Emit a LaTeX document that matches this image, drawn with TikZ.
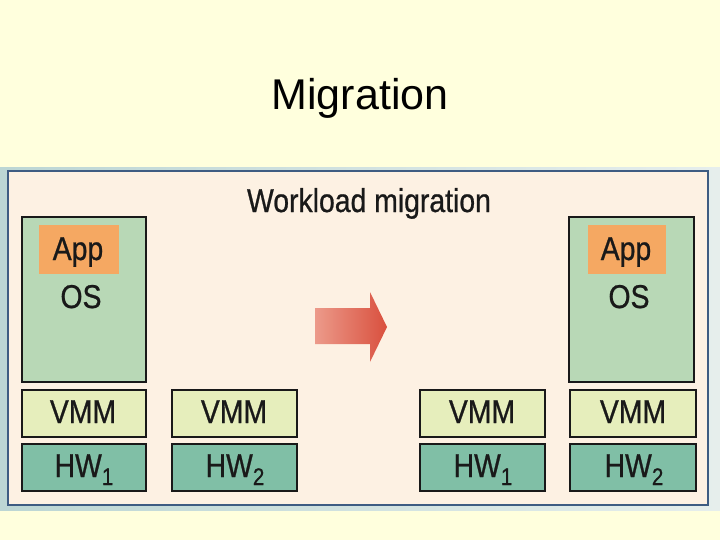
\documentclass[tikz,border=0pt]{standalone}
\usepackage{fontspec}
\setmainfont{Liberation Sans}
\newfontfamily\medfont[FakeBold=0.8]{Liberation Sans}
\usetikzlibrary{positioning}
\definecolor{bgyellow}{HTML}{FFFFDD}
\definecolor{bandL}{HTML}{BCD6D4}
\definecolor{bandR}{HTML}{E6EEEC}
\definecolor{framecol}{HTML}{3E5C82}
\definecolor{cream}{HTML}{FDF1E3}
\definecolor{osgreen}{HTML}{B8D8B6}
\definecolor{apporange}{HTML}{F5A862}
\definecolor{vmmcol}{HTML}{E6EEBC}
\definecolor{hwcol}{HTML}{80BFA6}
\definecolor{arrowL}{HTML}{EC9A8A}
\definecolor{arrowR}{HTML}{D9503E}
\newcommand{\hwsub}[1]{HW\raisebox{-8pt}{\fontsize{24}{24}\selectfont #1}}
\tikzset{
  box/.style={draw=black!90, line width=2pt, inner sep=0pt, anchor=north west},
  lbl/.style={inner sep=0pt, anchor=base, font=\medfont\fontsize{33}{36}\selectfont, xscale=0.86, text=black!90},
}
\begin{document}
\begin{tikzpicture}[x=1pt,y=-1pt]
\useasboundingbox (0,0) rectangle (720,540);
\fill[bgyellow] (0,0) rectangle (720,540);
\node[font=\fontsize{43}{46}\selectfont, anchor=base, inner sep=0pt] (title) at (360,110) {Migration};
% band
\shade[left color=bandL, right color=bandR] (0,168) rectangle (720,510);
\draw[framecol, line width=2pt, fill=cream] (7.5,171.5) rectangle (707.5,505) ;
\node[lbl] (wl) at (369,212) {Workload migration};
% left stack
\node[box, fill=osgreen, minimum width=124pt, minimum height=165pt] (os1) at (21,216) {};
\node[box, draw=none, fill=apporange, minimum width=80pt, minimum height=49pt] (app1) at (38,224) {};
\node[lbl] (appt1) at (78,260) {App};
\node[lbl] (ost1) at (81,308) {OS};
\node[box, fill=vmmcol, minimum width=124pt, minimum height=47pt] (vmm1) at (21,389) {};
\node[lbl] (vt1) at (83,423) {VMM};
\node[box, fill=hwcol, minimum width=124pt, minimum height=47pt] (hw1) at (21,443) {};
\node[lbl] (ht1) at (84,477) {\hwsub{1}};
\node[box, fill=vmmcol, minimum width=125pt, minimum height=47pt] (vmm2) at (171,389) {};
\node[lbl] (vt2) at (234,423) {VMM};
\node[box, fill=hwcol, minimum width=125pt, minimum height=47pt] (hw2) at (171,443) {};
\node[lbl] (ht2) at (235,477) {\hwsub{2}};
% right stack
\node[box, fill=vmmcol, minimum width=125pt, minimum height=47pt] (vmm3) at (419,389) {};
\node[lbl] (vt3) at (482,423) {VMM};
\node[box, fill=hwcol, minimum width=125pt, minimum height=47pt] (hw3) at (419,443) {};
\node[lbl] (ht3) at (483,477) {\hwsub{1}};
\node[box, fill=osgreen, minimum width=125pt, minimum height=165pt] (os2) at (568,216) {};
\node[box, draw=none, fill=apporange, minimum width=78pt, minimum height=49pt] (app2) at (587,224) {};
\node[lbl] (appt2) at (626,260) {App};
\node[lbl] (ost2) at (629,308) {OS};
\node[box, fill=vmmcol, minimum width=126pt, minimum height=47pt] (vmm4) at (569,389) {};
\node[lbl] (vt4) at (633,423) {VMM};
\node[box, fill=hwcol, minimum width=126pt, minimum height=47pt] (hw4) at (569,443) {};
\node[lbl] (ht4) at (634,477) {\hwsub{2}};
% arrow
\shade[left color=arrowL, right color=arrowR]
  (315,308) -- (370,308) -- (370,292) -- (387,327) -- (370,362) -- (370,344) -- (315,344) -- cycle;
\end{tikzpicture}
\end{document}
